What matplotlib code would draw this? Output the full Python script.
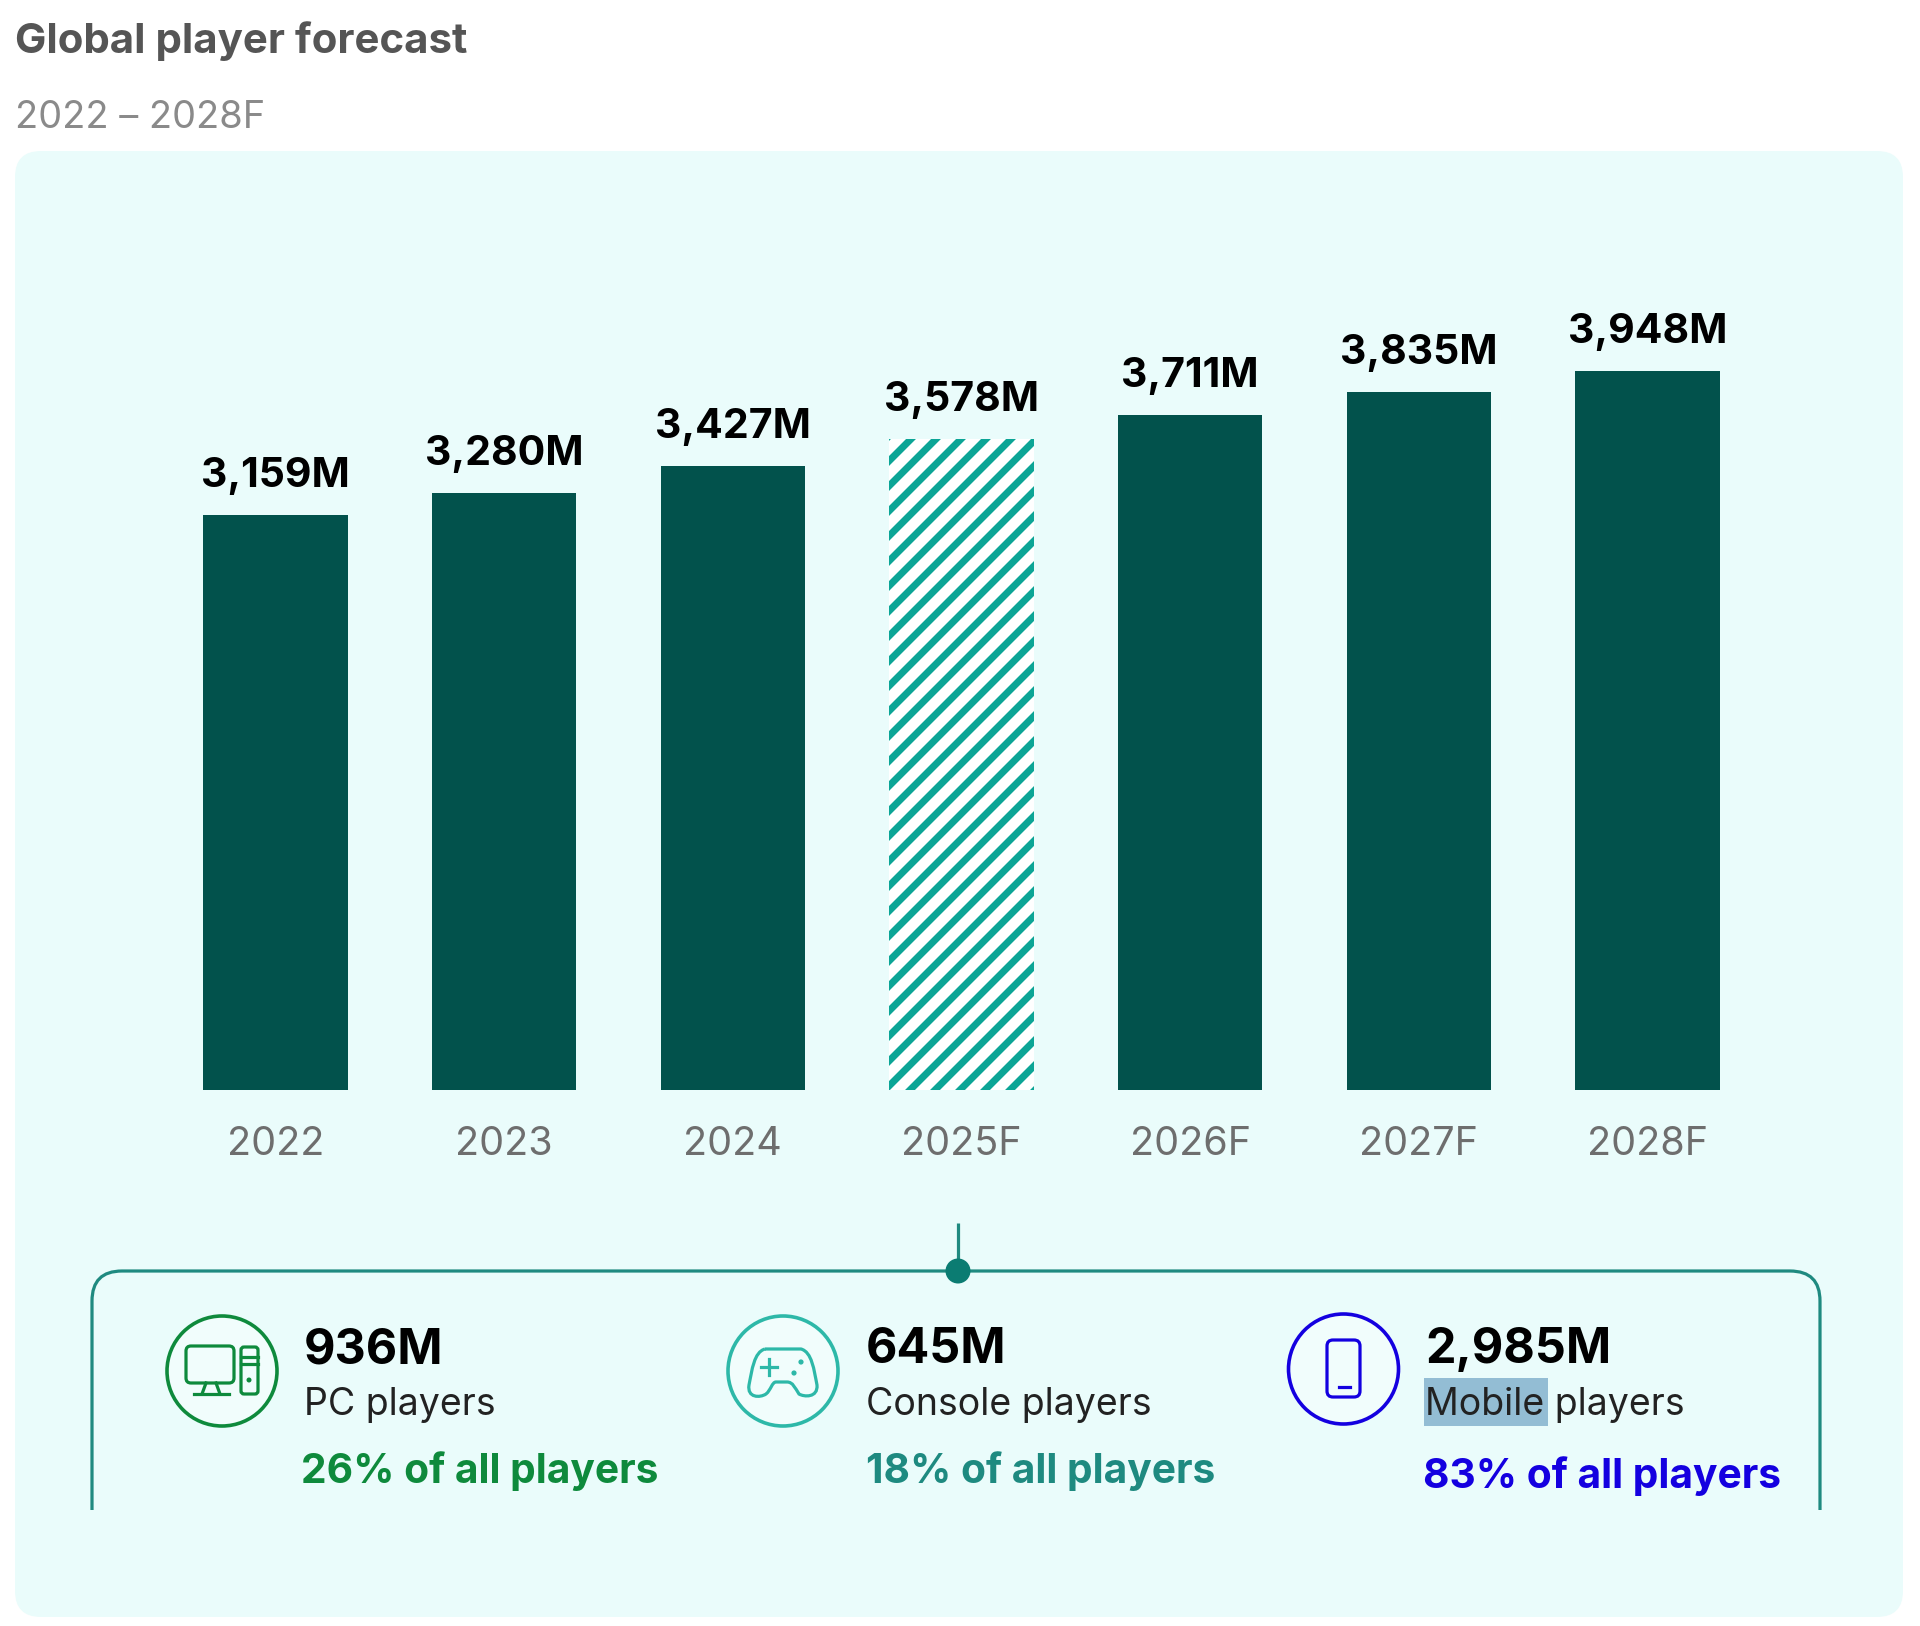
import matplotlib
matplotlib.use("Agg")
import matplotlib.pyplot as plt
from matplotlib.patches import Circle, FancyBboxPatch, PathPatch, Rectangle
from matplotlib.path import Path

W, H, DPI = 1920, 1626, 150

years = ['2022', '2023', '2024', '2025F', '2026F', '2027F', '2028F']
players = [3159, 3280, 3427, 3578, 3711, 3835, 3948]
hatched_year = '2025F'

segment_values = ['936M', '645M', '2,985M']
segment_names = ['PC players', 'Console players', 'Mobile players']
segment_shares = ['26% of all players', '18% of all players', '83% of all players']

DARK = '#02524C'
TEAL = '#0CA596'
LINE = '#1F8A80'
GREEN = '#0E8A3C'
CONSOLE = '#2DB8A8'
CONSOLE_TXT = '#1E8A80'
BLUE = '#1400E0'


def pt(px):
    # pixels to points at the figure dpi
    return px * 72 / DPI


plt.rcParams['font.family'] = ['Inter', 'DejaVu Sans']
plt.rcParams['hatch.linewidth'] = pt(7)

fig = plt.figure(figsize=(W / DPI, H / DPI), dpi=DPI, facecolor='white')

# background layer in pixel coordinates
bg = fig.add_axes([0, 0, 1, 1])
bg.set_xlim(0, W)
bg.set_ylim(H, 0)
bg.axis('off')

bg.add_patch(FancyBboxPatch((15 + 26, 151 + 26), 1888 - 52, 1466 - 52,
                            boxstyle='round,pad=26,rounding_size=26',
                            fc='#EAFCFB', ec='none'))
bg.text(15, 53, 'Global player forecast', fontsize=pt(42), fontweight='bold',
        color='#555555', va='baseline')
bg.text(15, 128, '2022 – 2028F', fontsize=pt(38), color='#8A8A8A', va='baseline')

# bracket under the bars
r = 30
bracket = Path([(92, 1510), (92, 1271 + r), (92, 1271), (92 + r, 1271),
                (1820 - r, 1271), (1820, 1271), (1820, 1271 + r), (1820, 1510)],
               [Path.MOVETO, Path.LINETO, Path.CURVE3, Path.CURVE3,
                Path.LINETO, Path.CURVE3, Path.CURVE3, Path.LINETO])
bg.add_patch(PathPatch(bracket, fc='none', ec=LINE, lw=pt(3.2), capstyle='butt'))
bg.plot([958, 958], [1223, 1271], color=LINE, lw=pt(3.2), solid_capstyle='butt')
bg.add_patch(Circle((958, 1271), 12.5, fc='#0B7C72', ec='none', zorder=3))

# icon circles
icon_pos = [(222, 1371), (783, 1371), (1343.5, 1369)]
icon_col = [GREEN, CONSOLE, BLUE]
for (cx, cy), col in zip(icon_pos, icon_col):
    bg.add_patch(Circle((cx, cy), 55, fc='#F1FDFC', ec=col, lw=pt(3.6)))

# PC icon
lw = pt(3.2)
bg.add_patch(FancyBboxPatch((190, 1350), 40, 29, boxstyle='round,pad=4,rounding_size=5',
                            fc='none', ec=GREEN, lw=lw))
bg.plot([194, 229], [1394, 1394], color=GREEN, lw=lw)
bg.plot([206, 202], [1383, 1394], color=GREEN, lw=lw)
bg.plot([216, 220], [1383, 1394], color=GREEN, lw=lw)
bg.add_patch(FancyBboxPatch((244, 1350), 11, 41, boxstyle='round,pad=3,rounding_size=3',
                            fc='none', ec=GREEN, lw=lw))
bg.plot([241, 258], [1357, 1357], color=GREEN, lw=lw)
bg.plot([241, 258], [1364, 1364], color=GREEN, lw=lw)
bg.add_patch(Circle((249, 1380), 2.5, fc=GREEN, ec='none'))

# gamepad icon
pad = Path([(765, 1349), (801, 1349),
            (812, 1352), (814, 1370), (817, 1385),
            (818, 1398), (804, 1397), (799, 1394),
            (795, 1388), (793, 1382), (787, 1382),
            (776, 1382),
            (772, 1382), (771, 1390), (766, 1394),
            (760, 1398), (747, 1398), (749, 1385),
            (752, 1370), (754, 1352), (765, 1349)],
           [Path.MOVETO, Path.LINETO,
            Path.CURVE4, Path.CURVE4, Path.CURVE4,
            Path.CURVE4, Path.CURVE4, Path.CURVE4,
            Path.CURVE4, Path.CURVE4, Path.CURVE4,
            Path.LINETO,
            Path.CURVE4, Path.CURVE4, Path.CURVE4,
            Path.CURVE4, Path.CURVE4, Path.CURVE4,
            Path.CURVE4, Path.CURVE4, Path.CURVE4])
bg.add_patch(PathPatch(pad, fc='none', ec=CONSOLE, lw=lw))
bg.plot([761, 777], [1367, 1367], color=CONSOLE, lw=lw)
bg.plot([769, 769], [1359, 1375], color=CONSOLE, lw=lw)
bg.add_patch(Circle((801, 1362), 2.6, fc=CONSOLE, ec='none'))
bg.add_patch(Circle((794, 1373), 2.6, fc=CONSOLE, ec='none'))

# phone icon
bg.add_patch(FancyBboxPatch((1332, 1345), 23, 47, boxstyle='round,pad=5,rounding_size=6',
                            fc='none', ec=BLUE, lw=lw))
bg.plot([1339, 1350], [1387, 1387], color=BLUE, lw=lw)

# segment text
bg.add_patch(Rectangle((1424, 1378), 124, 48, fc='#93BDD4', ec='none'))
text_x = [304, 866, 1425]
share_x = [301, 866, 1423]
share_y = [1483, 1483, 1488]
share_col = [GREEN, CONSOLE_TXT, BLUE]
for i in range(3):
    bg.text(text_x[i], 1363, segment_values[i], fontsize=pt(48.5), fontweight='bold',
            color='black', va='baseline')
    bg.text(text_x[i], 1415, segment_names[i], fontsize=pt(37.5), color='#222222',
            va='baseline')
    bg.text(share_x[i], share_y[i], segment_shares[i], fontsize=pt(40.7),
            fontweight='bold', color=share_col[i], va='baseline')

# bar chart
x0, x1 = 161, 1762
y_base, y_top = 1090, 200
ax = fig.add_axes([x0 / W, 1 - y_base / H, (x1 - x0) / W, (y_base - y_top) / H])
ax.patch.set_alpha(0)
x_pos = list(range(len(years)))
colors = ['white' if y == hatched_year else DARK for y in years]
bars = ax.bar(x_pos, players, width=0.632, color=colors, linewidth=0)
for bar, y in zip(bars, years):
    if y == hatched_year:
        bar.set_hatch('//')
        bar.set_edgecolor(TEAL)
ax.set_xlim(-0.5, 6.5)
ax.set_ylim(0, (y_base - y_top) / 0.182)
ax.set_yticks([])
ax.set_xticks(x_pos, years)
ax.tick_params(axis='x', length=0, pad=pt(36), labelsize=pt(39.5), labelcolor='#6E6E6E')
for side in ax.spines.values():
    side.set_visible(False)
for xp, v in zip(x_pos, players):
    ax.annotate(f'{v:,}M', (xp, v), xytext=(0, pt(28)), textcoords='offset points',
                ha='center', va='baseline', fontsize=pt(41), fontweight='bold',
                color='black')

fig.savefig('out.png', dpi=DPI)
